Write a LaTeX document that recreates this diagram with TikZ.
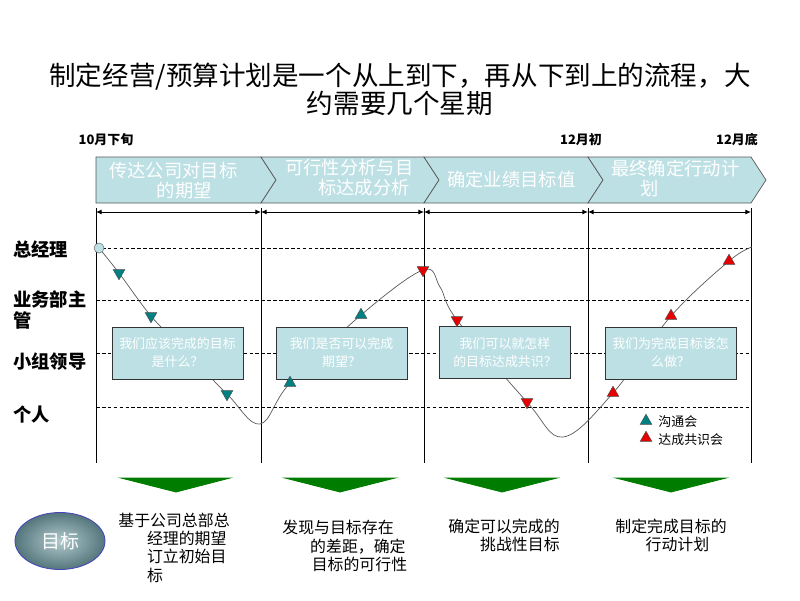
\documentclass[tikz,border=0pt]{standalone}
\usepackage{fontspec}
\setmainfont{Noto Sans CJK SC}
\usetikzlibrary{shapes.geometric,arrows.meta}
\definecolor{paleblue}{RGB}{189,224,228}
\definecolor{talkcol}{RGB}{0,128,128}
\definecolor{agreecol}{RGB}{230,0,0}
\definecolor{downgreen}{RGB}{0,125,0}
\definecolor{goalin}{RGB}{178,202,205}
\definecolor{goalout}{RGB}{84,118,124}
\begin{document}
\begin{tikzpicture}[x=0.025cm, y=-0.025cm, line width=0.6pt,
chev/.style={draw=black!65, fill=paleblue, line width=0.5pt},
chev text/.style={text=white, font=\fontsize{13}{14.2}\selectfont, align=left, anchor=west, inner sep=0pt},
row label/.style={font=\fontsize{13}{14.5}\selectfont\bfseries, align=left, anchor=west, inner sep=0pt},
date label/.style={font=\fontsize{9.2}{11}\selectfont\bfseries, inner sep=0pt},
q box/.style={draw=black!80, fill=paleblue, minimum width=3.275cm, minimum height=1.3cm, text=white, font=\fontsize{9.2}{12.8}\selectfont, align=center, inner sep=0pt},
marker/.style={regular polygon, regular polygon sides=3, minimum size=0.34cm, inner sep=0pt, draw=black!70, line width=0.3pt},
down marker/.style={marker, shape border rotate=180},
talk/.style={fill=talkcol},
agree/.style={fill=agreecol},
level line/.style={dash pattern=on 2.6pt off 1.6pt, line width=0.5pt},
span arrow/.style={{Latex[length=4pt,width=3.5pt]}-{Latex[length=4pt,width=3.5pt]}, line width=0.6pt},
bottom text/.style={font=\fontsize{11.3}{13}\selectfont, align=left, anchor=west, inner sep=0pt}]
\useasboundingbox (0,0) rectangle (800,600);

% title and dates
\node[font=\fontsize{18.9}{19.9}\selectfont, align=center, inner sep=0pt] (title) at (400,89) {制定经营/预算计划是一个从上到下，再从下到上的流程，大\\约需要几个星期};
\node[date label] (d1) at (106,140) {10月下旬};
\node[date label] (d2) at (581,140) {12月初};
\node[date label] (d3) at (737,140) {12月底};

% chevrons
\filldraw[chev] (96,157) -- (261,157) -- (276,180) -- (261,203) -- (96,203) -- cycle;
\filldraw[chev] (261,157) -- (424,157) -- (439,180) -- (424,203) -- (261,203) -- (276,180) -- cycle;
\filldraw[chev] (424,157) -- (588,157) -- (603,180) -- (588,203) -- (424,203) -- (439,180) -- cycle;
\filldraw[chev] (588,157) -- (751,157) -- (766,180) -- (751,203) -- (588,203) -- (603,180) -- cycle;
\node[chev text] (h1) at (109,181) {传达公司对目标\\\hspace*{2.6em}的期望};
\node[chev text] (h2) at (285,178) {可行性分析与目\\\hspace*{1.8em}标达成分析};
\node[chev text] (h3) at (447,180) {确定业绩目标值};
\node[chev text] (h4) at (611,178) {最终确定行动计\\\hspace*{1.6em}划};

% time lines
\coordinate (u1) at (96,208);  \coordinate (l1) at (96,463);
\coordinate (u2) at (261,208); \coordinate (l2) at (261,463);
\coordinate (u3) at (424,208); \coordinate (l3) at (424,463);
\coordinate (u4) at (588,208); \coordinate (l4) at (588,463);
\coordinate (u5) at (751,208); \coordinate (l5) at (751,463);
\draw (u1) -- (l1);
\draw (u2) -- (l2);
\draw (u3) -- (l3);
\draw (u4) -- (l4);
\draw (u5) -- (l5);
\coordinate (a1) at (96,212);
\coordinate (a2) at (261,212);
\coordinate (a3) at (424,212);
\coordinate (a4) at (588,212);
\coordinate (a5) at (751,212);
\draw[span arrow] (a1) -- (a2);
\draw[span arrow] (a2) -- (a3);
\draw[span arrow] (a3) -- (a4);
\draw[span arrow] (a4) -- (a5);

% levels
\draw[level line] (96,248) -- (751,248);
\draw[level line] (96,300) -- (751,300);
\draw[level line] (96,353) -- (751,353);
\draw[level line] (96,407) -- (751,407);
\node[row label] (r1) at (13,249) {总经理};
\node[row label] (r2) at (13,310) {业务部主\\管};
\node[row label] (r3) at (13,362) {小组领导};
\node[row label] (r4) at (13,415) {个人};

% path of the plan
\coordinate (c1) at (99,248);
\coordinate (c2) at (119,273);
\coordinate (c3) at (151,316);
\coordinate (c4) at (185,351);
\coordinate (c5) at (227,394);
\coordinate (c6) at (260,424);
\coordinate (c7) at (290,383);
\coordinate (c8) at (361,315);
\coordinate (c9) at (423,270);
\coordinate (c10) at (440,287);
\coordinate (c11) at (457,320);
\coordinate (c12) at (527,402);
\coordinate (c13) at (563,437);
\coordinate (c14) at (613,393);
\coordinate (c15) at (671,316);
\coordinate (c16) at (729,261);
\coordinate (c17) at (752,247);
\draw[black!65, line width=0.5pt] plot[smooth, tension=0.6] coordinates {(c1) (c2) (c3) (c4) (c5) (c6) (c7) (c8) (c9) (c10) (c11) (c12) (c13) (c14) (c15) (c16) (c17)};
\node[circle, draw=black!55, fill=paleblue, minimum size=0.25cm, inner sep=0pt, line width=0.4pt] (s0) at (c1) {};

% questions
\node[q box] (b1) at (177.5,353) {我们应该完成的目标\\是什么？};
\node[q box] (b2) at (341.5,353) {我们是否可以完成\\期望？};
\node[q box] (b3) at (505,352.5) {我们可以就怎样\\的目标达成共识？};
\node[q box] (b4) at (670.5,353) {我们为完成目标该怎\\么做？};

% meetings
\node[down marker, talk] (m1) at (c2) {};
\node[down marker, talk] (m2) at (c3) {};
\node[down marker, talk] (m3) at (c5) {};
\node[marker, talk] (m4) at (c7) {};
\node[marker, talk] (m5) at (c8) {};
\node[down marker, agree] (m6) at (c9) {};
\node[down marker, agree] (m7) at (c11) {};
\node[down marker, agree] (m8) at (c12) {};
\node[marker, agree] (m9) at (c14) {};
\node[marker, agree] (m10) at (c15) {};
\node[marker, agree] (m11) at (c16) {};
%\node[marker, talk] (m) at () {};

% legend
\node[marker, talk] (k1) at (646,421) {};
\node[marker, agree] (k2) at (646,438) {};
\node[font=\fontsize{9.2}{11}\selectfont, anchor=west, inner sep=0pt] (k1t) at (658,422) {沟通会};
\node[font=\fontsize{9.2}{11}\selectfont, anchor=west, inner sep=0pt] (k2t) at (658,440) {达成共识会};

% goals
\filldraw[downgreen] (121,478) -- (230,478) -- (176,492) -- cycle;
\filldraw[downgreen] (285,478) -- (395,478) -- (340,492) -- cycle;
\filldraw[downgreen] (447,478) -- (557,478) -- (502,492) -- cycle;
\filldraw[downgreen] (616,478) -- (726,478) -- (671,492) -- cycle;
\node[ellipse, draw=blue!45!gray, line width=0.6pt, shading=radial, inner color=goalin, outer color=goalout, minimum width=2.25cm, minimum height=1.425cm, text=white, font=\fontsize{13.5}{15}\selectfont] (goal) at (60,541) {目标};
\node[bottom text] (g1) at (118,547.5) {基于公司总部总\\\hspace*{1.8em}经理的期望\\\hspace*{1.8em}订立初始目\\\hspace*{1.8em}标};
\node[bottom text] (g2) at (282,546) {发现与目标存在\\\hspace*{1.75em}的差距，确定\\\hspace*{1.85em}目标的可行性};
\node[bottom text] (g3) at (448,535.5) {确定可以完成的\\\hspace*{2em}挑战性目标};
\node[bottom text] (g4) at (615,535.5) {制定完成目标的\\\hspace*{1.9em}行动计划};
\end{tikzpicture}
\end{document}
